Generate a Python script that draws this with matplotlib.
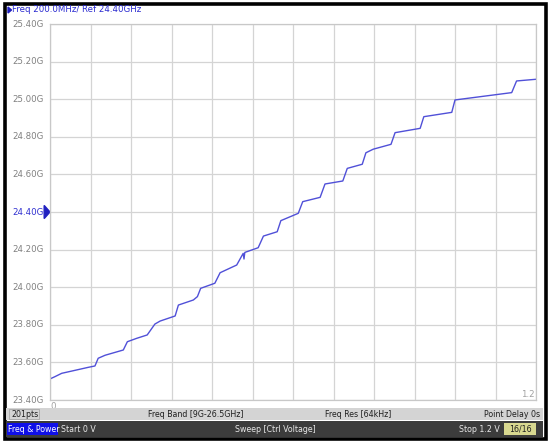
import matplotlib
matplotlib.use("Agg")
import matplotlib.pyplot as plt
from matplotlib.patches import Rectangle, Polygon
import numpy as np

# ---- data ----
voltage = [0.000, 0.012, 0.029, 0.058, 0.095, 0.111, 0.119, 0.136, 0.181, 0.191,
           0.214, 0.240, 0.259, 0.272, 0.309, 0.317, 0.354, 0.364, 0.372, 0.407,
           0.420, 0.461, 0.477, 0.479, 0.481, 0.514, 0.527, 0.561, 0.570, 0.613,
           0.624, 0.667, 0.679, 0.723, 0.734, 0.771, 0.780, 0.798, 0.842, 0.852,
           0.914, 0.923, 0.992, 1.000, 1.140, 1.152, 1.200]
freq_ghz = [23.512, 23.524, 23.542, 23.556, 23.574, 23.581, 23.622, 23.638, 23.666, 23.710,
            23.728, 23.746, 23.804, 23.820, 23.847, 23.905, 23.932, 23.950, 23.994, 24.021,
            24.077, 24.118, 24.180, 24.150, 24.185, 24.210, 24.272, 24.295, 24.354, 24.393,
            24.455, 24.478, 24.549, 24.565, 24.632, 24.654, 24.715, 24.734, 24.760, 24.822,
            24.845, 24.907, 24.930, 24.996, 25.035, 25.097, 25.106]

y_ticks = [23.40, 23.60, 23.80, 24.00, 24.20, 24.40, 24.60, 24.80, 25.00, 25.20, 25.40]
y_tick_labels = ["23.40G", "23.60G", "23.80G", "24.00G", "24.20G", "24.40G",
                 "24.60G", "24.80G", "25.00G", "25.20G", "25.40G"]
x_ticks = [round(0.1 * i, 1) for i in range(13)]
ref_level = 24.40

header_text = "Freq 200.0MHz/ Ref 24.40GHz"
status_texts = ["201pts", "Freq Band [9G-26.5GHz]", "Freq Res [64kHz]", "Point Delay 0s"]
bottom_texts = ["Freq & Power", "Start 0 V", "Sweep [Ctrl Voltage]", "Stop 1.2 V", "16/16"]

W, H = 550, 444
fig = plt.figure(figsize=(W / 100, H / 100), dpi=100)
fig.patch.set_facecolor("white")

def fx(px):
    return px / W

def fy(py):
    return 1 - py / H

FONT = "DejaVu Sans"
FS = 6.2
FSB = 5.7

# outer black frame
fig.add_artist(Rectangle((fx(4.5), fy(438.5)), fx(541), 434 / H, transform=fig.transFigure,
                         fill=False, edgecolor="black", linewidth=2.6))

# plot area
L, R, T, B = 50, 536, 24, 400
ax = fig.add_axes([fx(L), fy(B), (R - L) / W, (B - T) / H])
ax.plot(voltage, freq_ghz, color="#5050d8", linewidth=1.0)
ax.set_xlim(0, 1.2)
ax.set_ylim(23.40, 25.40)
ax.set_xticks(x_ticks)
ax.set_yticks(y_ticks)
ax.grid(True, color="#d4d4d4", linewidth=0.9)
ax.tick_params(length=0, labelleft=False, labelbottom=False)
for s in ax.spines.values():
    s.set_color("#c8c8c8")
    s.set_linewidth(0.9)

# y tick labels
for v, lab in zip(y_ticks, y_tick_labels):
    col = "#3030d0" if abs(v - ref_level) < 1e-9 else "#808080"
    ax.text(-0.013, v, lab, transform=ax.get_yaxis_transform(), ha="right", va="center",
            fontsize=FS, color=col, family=FONT)
# reference marker
ax.add_patch(Polygon([[-0.0, ref_level], [-0.012, ref_level + 0.035], [-0.012, ref_level - 0.035]],
                     closed=True, transform=ax.get_yaxis_transform(), color="#2020c0",
                     clip_on=False))
# x end labels
ax.text(0.0, -0.005, "0", transform=ax.transAxes, ha="left", va="top", fontsize=FS,
        color="#a0a0a0", family=FONT)
ax.text(0.998, 0.003, "1.2", transform=ax.transAxes, ha="right", va="bottom", fontsize=FS,
        color="#a0a0a0", family=FONT)

# header
fig.add_artist(Polygon([[fx(8), fy(7)], [fx(8), fy(13)], [fx(11.5), fy(10)]], closed=True,
                       transform=fig.transFigure, color="#2020c0"))
fig.text(fx(12), fy(10), header_text, ha="left", va="center", fontsize=FS, color="#2a2ad0",
         family=FONT)

# status bar (gray)
fig.add_artist(Rectangle((fx(6), fy(420)), fx(537), 12 / H, transform=fig.transFigure,
                         facecolor="#d4d4d4", edgecolor="none"))
fig.add_artist(Rectangle((fx(9), fy(419)), fx(30), 10 / H, transform=fig.transFigure,
                         facecolor="#d4d4d4", edgecolor="#a8a8a8", linewidth=0.6))
fig.text(fx(11), fy(414), status_texts[0], ha="left", va="center", fontsize=FSB, color="#202020", family=FONT)
fig.text(fx(196), fy(414), status_texts[1], ha="center", va="center", fontsize=FSB, color="#202020", family=FONT)
fig.text(fx(358), fy(414), status_texts[2], ha="center", va="center", fontsize=FSB, color="#202020", family=FONT)
fig.text(fx(540), fy(414), status_texts[3], ha="right", va="center", fontsize=FSB, color="#202020", family=FONT)

# bottom dark bar
fig.add_artist(Rectangle((fx(6), fy(437)), fx(537), 16 / H, transform=fig.transFigure,
                         facecolor="#3c3c3c", edgecolor="none"))
fig.add_artist(Rectangle((fx(7), fy(435)), fx(51), 12 / H, transform=fig.transFigure,
                         facecolor="#1010e8", edgecolor="none"))
fig.text(fx(8.5), fy(429), bottom_texts[0], ha="left", va="center", fontsize=FSB, color="white", family=FONT)
fig.text(fx(61), fy(429), bottom_texts[1], ha="left", va="center", fontsize=FSB, color="#e8e8e8", family=FONT)
fig.text(fx(275), fy(429), bottom_texts[2], ha="center", va="center", fontsize=FSB, color="#e8e8e8", family=FONT)
fig.text(fx(500), fy(429), bottom_texts[3], ha="right", va="center", fontsize=FSB, color="#e8e8e8", family=FONT)
fig.add_artist(Rectangle((fx(504), fy(435)), fx(32), 12 / H, transform=fig.transFigure,
                         facecolor="#d8d890", edgecolor="none"))
fig.text(fx(520), fy(429), bottom_texts[4], ha="center", va="center", fontsize=FSB, color="#202020", family=FONT)

fig.savefig("out.png", dpi=100, facecolor="white")
